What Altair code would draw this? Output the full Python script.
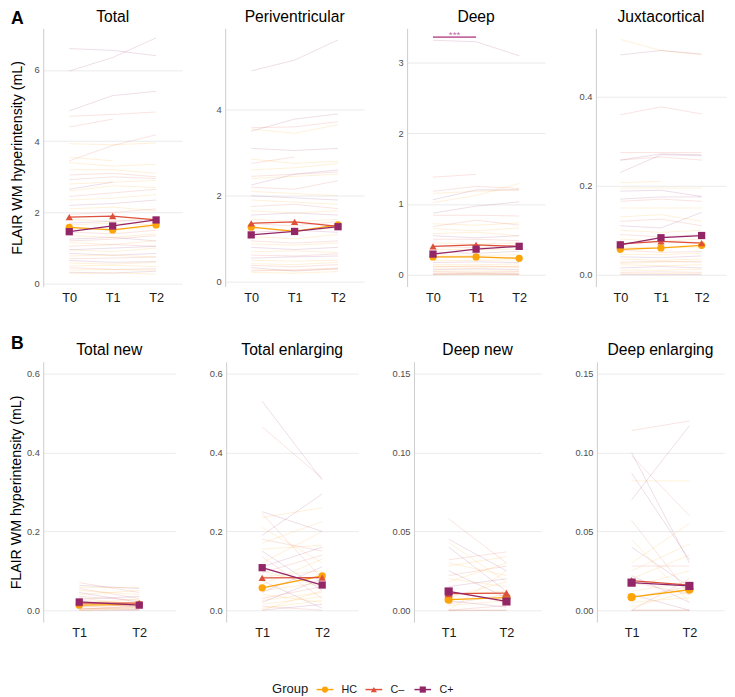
import altair as alt
import pandas as pd

FONT = "Liberation Sans"
GROUPS = ["HC", "C–", "C+"]
COLORS = ["#FCA50A", "#DD513A", "#932667"]
SHAPES = ["circle", "triangle-up", "square"]
TIMES_A = ["T0", "T1", "T2"]
TIMES_B = ["T1", "T2"]
YTITLE = "FLAIR WM hyperintensity (mL)"
SIG_COLOR = "#C46AA1"

# ---------- individual subject trajectories (group, values per time point) ----------
total_subj = [
    ("C+", 6.60, 6.55, 6.40), ("C+", 5.97, 6.35, 6.90), ("C+", 4.85, 5.28, 5.40),
    ("C–", 4.70, 4.75, 4.82), ("C–", 4.40, 4.62, None), ("HC", 3.93, 3.90, 3.95),
    ("C–", 3.45, 3.88, 4.18), ("HC", 3.55, 3.45, None), ("HC", 3.40, 3.30, 3.35),
    ("HC", 3.20, 3.20, 3.10), ("C–", 2.92, 3.00, 2.95), ("C+", 2.65, 2.85, None),
    ("HC", 2.60, 2.75, 2.70), ("C–", 2.45, 2.55, 2.65), ("HC", 2.35, 2.40, 2.50),
    ("C+", 2.20, 2.25, 2.35), ("HC", 2.10, 2.15, 2.05), ("C–", 1.95, 2.00, 2.10),
    ("HC", 1.80, 1.75, 1.85), ("C+", 1.70, 1.75, 1.80), ("HC", 1.55, 1.50, 1.60),
    ("C–", 1.45, 1.40, 1.50), ("HC", 1.35, 1.30, 1.40), ("C+", 1.25, 1.30, 1.20),
    ("HC", 1.15, 1.10, 1.20), ("C–", 1.05, 1.10, 1.05), ("HC", 0.95, 0.90, 1.00),
    ("C+", 0.85, 0.80, 0.85), ("HC", 0.78, 0.80, 0.75), ("C–", 0.70, 0.72, 0.75),
    ("C+", 0.65, 0.60, 0.62), ("HC", 0.58, 0.55, 0.60), ("HC", 0.50, 0.52, 0.48),
    ("C–", 0.45, 0.40, 0.42), ("HC", 0.38, 0.40, 0.38), ("C+", 0.32, 0.30, 0.35),
    ("HC", 0.28, 0.30, 0.27), ("C–", 1.20, 1.25, 1.35), ("HC", 1.65, 1.70, 1.65),
    ("C+", 0.95, 1.00, 1.05), ("HC", 2.80, 2.85, 2.90), ("C–", 3.05, 3.10, 3.00),
]
peri_subj = [
    ("C+", 4.90, 5.15, 5.62), ("C+", 3.50, 3.78, 3.90), ("HC", 3.55, 3.45, 3.65),
    ("C–", 3.58, 3.60, 3.72), ("C+", 3.10, 3.05, 3.10), ("C–", 2.75, 2.90, None),
    ("HC", 2.85, 2.75, 2.80), ("HC", 2.60, 2.65, 2.75), ("C+", 2.25, 2.50, 2.60),
    ("C–", 2.20, 2.15, 2.35), ("HC", 2.10, 2.05, 2.00), ("C+", 2.00, 1.95, 1.90),
    ("HC", 1.90, 1.85, 1.80), ("C–", 1.75, 1.80, 1.70), ("HC", 1.65, 1.60, 1.65),
    ("C+", 1.55, 1.60, 1.55), ("HC", 1.45, 1.40, 1.45), ("C–", 1.35, 1.30, 1.40),
    ("HC", 1.25, 1.20, 1.25), ("C+", 1.15, 1.20, 1.15), ("HC", 1.05, 1.00, 1.10),
    ("C–", 0.95, 0.90, 0.95), ("HC", 0.88, 0.85, 0.90), ("C+", 0.80, 0.75, 0.80),
    ("HC", 0.70, 0.72, 0.68), ("C–", 0.62, 0.60, 0.65), ("C+", 0.55, 0.58, 0.60),
    ("HC", 0.50, 0.48, 0.50), ("HC", 0.42, 0.40, 0.45), ("C–", 0.38, 0.35, 0.40),
    ("C+", 0.33, 0.25, 0.30), ("HC", 0.28, 0.26, 0.30), ("HC", 0.22, 0.20, 0.24),
    ("C–", 0.25, 0.28, 0.32), ("HC", 2.40, 2.45, 2.50), ("C–", 2.45, 2.50, 2.55),
]
deep_subj = [
    ("C+", 3.32, 3.30, 3.10), ("C–", 1.38, 1.42, None), ("C–", 1.18, 1.25, 1.22),
    ("HC", 1.15, 1.18, 1.20), ("C+", 1.06, 1.20, 1.20), ("HC", 1.02, 1.12, 1.29),
    ("C+", 0.87, 0.97, 1.03), ("C–", 0.84, 0.84, 0.83), ("HC", 0.72, 0.70, 0.73),
    ("C–", 0.68, 0.77, 0.70), ("HC", 0.65, 0.62, 0.66), ("HC", 0.58, 0.60, 0.55),
    ("C+", 0.55, 0.52, 0.55), ("C–", 0.50, 0.50, 0.48), ("HC", 0.45, 0.43, 0.45),
    ("C–", 0.40, 0.38, 0.42), ("HC", 0.36, 0.35, 0.36), ("C+", 0.32, 0.30, 0.33),
    ("HC", 0.28, 0.27, 0.28), ("C–", 0.24, 0.25, 0.24), ("HC", 0.20, 0.20, 0.21),
    ("C+", 0.17, 0.18, 0.17), ("HC", 0.14, 0.14, 0.15), ("C–", 0.11, 0.12, 0.11),
    ("HC", 0.09, 0.09, 0.10), ("C+", 0.07, 0.08, 0.07), ("HC", 0.05, 0.05, 0.05),
    ("C–", 0.04, 0.03, 0.04), ("HC", 0.02, 0.02, 0.02), ("C+", 0.01, 0.01, 0.01),
    ("HC", 0.00, 0.00, 0.00), ("C–", 0.00, 0.01, 0.00), ("HC", 0.12, 0.11, 0.12),
]
juxta_subj = [
    ("HC", 0.530, 0.505, 0.495), ("C+", 0.495, 0.505, 0.497), ("C–", 0.360, 0.378, 0.362),
    ("C–", 0.275, 0.275, 0.275), ("C+", 0.258, 0.272, 0.270), ("C–", 0.258, 0.265, 0.258),
    ("C+", 0.230, 0.270, 0.268), ("HC", 0.207, 0.210, None), ("HC", 0.195, 0.195, 0.195),
    ("C+", 0.188, 0.190, 0.176), ("C+", 0.170, 0.175, 0.175), ("C–", 0.165, 0.170, 0.165),
    ("HC", 0.150, 0.150, 0.150), ("HC", 0.130, 0.135, 0.120), ("C–", 0.120, 0.125, 0.110),
    ("C+", 0.110, 0.105, 0.140), ("HC", 0.100, 0.095, 0.100), ("C–", 0.090, 0.085, 0.090),
    ("HC", 0.080, 0.075, 0.080), ("C+", 0.070, 0.075, 0.072), ("HC", 0.062, 0.060, 0.062),
    ("C–", 0.055, 0.050, 0.052), ("HC", 0.045, 0.045, 0.048), ("C+", 0.040, 0.038, 0.042),
    ("HC", 0.035, 0.032, 0.035), ("C–", 0.028, 0.030, 0.028), ("HC", 0.022, 0.020, 0.022),
    ("C+", 0.015, 0.018, 0.015), ("HC", 0.010, 0.010, 0.012), ("C–", 0.005, 0.006, 0.005),
    ("HC", 0.002, 0.002, 0.002), ("C+", 0.000, 0.000, 0.000), ("HC", 0.025, 0.028, 0.030),
]
totnew_subj = [
    ("C–", 0.070, 0.045), ("C+", 0.063, 0.055), ("HC", 0.058, 0.058), ("C–", 0.055, 0.030),
    ("HC", 0.050, 0.040), ("C+", 0.045, 0.020), ("HC", 0.040, 0.050), ("C–", 0.035, 0.025),
    ("HC", 0.032, 0.012), ("C+", 0.028, 0.035), ("HC", 0.025, 0.018), ("C–", 0.022, 0.008),
    ("HC", 0.018, 0.028), ("C+", 0.015, 0.010), ("HC", 0.012, 0.022), ("C–", 0.010, 0.005),
    ("HC", 0.008, 0.015), ("C+", 0.005, 0.002), ("HC", 0.004, 0.006), ("C–", 0.002, 0.012),
    ("HC", 0.000, 0.002), ("C+", 0.000, 0.000), ("HC", 0.000, 0.008),
]
totenl_subj = [
    ("C+", 0.530, 0.330), ("C–", 0.465, 0.335), ("C+", 0.250, 0.200), ("C–", 0.245, 0.080),
    ("HC", 0.235, 0.260), ("C+", 0.190, 0.295), ("HC", 0.210, 0.120), ("C–", 0.180, 0.150),
    ("HC", 0.170, 0.225), ("C+", 0.150, 0.050), ("HC", 0.155, 0.165), ("C–", 0.135, 0.030),
    ("HC", 0.120, 0.200), ("C+", 0.110, 0.160), ("HC", 0.100, 0.060), ("C–", 0.095, 0.140),
    ("HC", 0.085, 0.100), ("C+", 0.075, 0.005), ("HC", 0.065, 0.130), ("C–", 0.055, 0.090),
    ("HC", 0.050, 0.070), ("C+", 0.045, 0.110), ("HC", 0.040, 0.020), ("C–", 0.030, 0.060),
    ("HC", 0.025, 0.045), ("C+", 0.020, 0.080), ("HC", 0.015, 0.035), ("C–", 0.010, 0.000),
    ("HC", 0.005, 0.025), ("C+", 0.000, 0.015), ("HC", 0.000, 0.050),
]
deepnew_subj = [
    ("C–", 0.058, 0.030), ("C+", 0.045, 0.025), ("HC", 0.043, 0.018), ("C+", 0.040, 0.012),
    ("C–", 0.032, 0.037), ("HC", 0.030, 0.022), ("HC", 0.028, 0.034), ("C+", 0.025, 0.008),
    ("C–", 0.022, 0.028), ("HC", 0.020, 0.015), ("HC", 0.018, 0.030), ("C+", 0.015, 0.020),
    ("C–", 0.012, 0.005), ("HC", 0.010, 0.012), ("HC", 0.008, 0.018), ("C+", 0.006, 0.002),
    ("C–", 0.004, 0.010), ("HC", 0.003, 0.006), ("HC", 0.000, 0.000), ("C+", 0.000, 0.000),
    ("C–", 0.000, 0.003), ("HC", 0.000, 0.025),
]
deepenl_subj = [
    ("C–", 0.114, 0.120), ("C+", 0.100, 0.030), ("C–", 0.098, 0.060), ("C+", 0.087, 0.032),
    ("HC", 0.082, 0.082), ("C+", 0.070, 0.117), ("C–", 0.057, 0.010), ("HC", 0.045, 0.005),
    ("C+", 0.040, 0.015), ("HC", 0.030, 0.055), ("C–", 0.028, 0.028), ("HC", 0.025, 0.042),
    ("C+", 0.022, 0.005), ("HC", 0.020, 0.035), ("C–", 0.018, 0.010), ("HC", 0.015, 0.025),
    ("HC", 0.012, 0.018), ("C+", 0.010, 0.000), ("C–", 0.008, 0.015), ("HC", 0.005, 0.008),
    ("HC", 0.002, 0.012), ("C+", 0.000, 0.000), ("HC", 0.000, 0.000), ("C–", 0.000, 0.020),
]

# ---------- group means ----------
MEANS = {
    "Total": {"HC": [1.58, 1.51, 1.65], "C–": [1.87, 1.90, 1.79], "C+": [1.46, 1.62, 1.79]},
    "Periventricular": {"HC": [1.27, 1.17, 1.32], "C–": [1.36, 1.39, 1.29], "C+": [1.09, 1.17, 1.28]},
    "Deep": {"HC": [0.25, 0.25, 0.23], "C–": [0.40, 0.42, 0.40], "C+": [0.29, 0.36, 0.40]},
    "Juxtacortical": {"HC": [0.057, 0.060, 0.066], "C–": [0.069, 0.075, 0.071], "C+": [0.067, 0.083, 0.088]},
    "Total new": {"HC": [0.013, 0.015], "C–": [0.018, 0.018], "C+": [0.021, 0.013]},
    "Total enlarging": {"HC": [0.057, 0.087], "C–": [0.082, 0.083], "C+": [0.108, 0.064]},
    "Deep new": {"HC": [0.0067, 0.0080], "C–": [0.0105, 0.0108], "C+": [0.0119, 0.0056]},
    "Deep enlarging": {"HC": [0.0083, 0.0130], "C–": [0.0188, 0.0160], "C+": [0.0175, 0.0154]},
}

# significance annotation in "Deep": from, to, height, label
deep_sig = ("T0", "T1", 3.365, "***")

color_scale = alt.Scale(domain=GROUPS, range=COLORS)
shape_scale = alt.Scale(domain=GROUPS, range=SHAPES)
TITLE_SIZE = 16


def panel(name, subjects, times, ydom, yticks, fmt, width, height,
          first=False, letter=None, letter_x=0, letter_y=0, title_y=-19, pt_size=55,
          sig=None, title_pad=3):
    rows = []
    for i, rec in enumerate(subjects):
        for t, v in zip(times, rec[1:]):
            if v is not None:
                rows.append({"sid": i, "group": rec[0], "time": t, "value": v})
    sub_df = pd.DataFrame(rows)
    mean_df = pd.DataFrame([{"group": g, "time": t, "value": v}
                            for g in GROUPS for t, v in zip(times, MEANS[name][g])])

    xscale = alt.Scale(type="point", domain=times, padding=0.6)
    xaxis = alt.Axis(title=None, labelAngle=0, domain=False, ticks=False, tickSize=0,
                     grid=False, labelFontSize=13, labelColor="#1A1A1A", labelFont=FONT,
                     labelPadding=5)
    yaxis_kw = dict(values=yticks, format=fmt, grid=True, gridColor="#EBEBEB", gridWidth=1,
                    domain=True, domainColor="#CCCCCC", domainWidth=1, ticks=False, tickSize=0,
                    labelFontSize=9.5, labelColor="#4D4D4D", labelFont=FONT, labelPadding=4)
    if first:
        yaxis = alt.Axis(title=YTITLE, titleFontSize=14.5, titleFontWeight="normal",
                         titleFont=FONT, titleColor="#000000", titlePadding=title_pad, **yaxis_kw)
    else:
        yaxis = alt.Axis(title=None, **yaxis_kw)
    yscale = alt.Scale(domain=ydom, nice=False, zero=False)
    x = alt.X("time:N", scale=xscale, axis=xaxis)
    y = alt.Y("value:Q", scale=yscale, axis=yaxis)
    col = alt.Color("group:N", scale=color_scale, legend=None)

    spag = alt.Chart(sub_df).mark_line(strokeWidth=0.8, opacity=0.2).encode(
        x=x, y=y, color=col, detail="sid:N")
    mline = alt.Chart(mean_df).mark_line(strokeWidth=1.3).encode(
        x=x, y=y, color=col, detail="group:N")
    mpts = alt.Chart(mean_df).mark_point(filled=True, size=pt_size, opacity=1).encode(
        x=x, y=y, color=col, shape=alt.Shape("group:N", scale=shape_scale, legend=None))
    layers = [spag, mline, mpts]

    if sig is not None:
        step = width / (len(times) - 1 + 1.2)
        sdf = pd.DataFrame({"x1": [sig[0]], "x2": [sig[1]], "y": [sig[2]], "label": [sig[3]]})
        layers.append(alt.Chart(sdf).mark_rule(color=SIG_COLOR, strokeWidth=1.6).encode(
            x=alt.X("x1:N", scale=xscale, axis=xaxis), x2="x2:N",
            y=alt.Y("y:Q", scale=yscale, axis=yaxis)))
        layers.append(alt.Chart(sdf).mark_text(color=SIG_COLOR, fontSize=10, font=FONT,
                                               baseline="alphabetic", dx=step / 2, dy=1).encode(
            x=alt.X("x1:N", scale=xscale, axis=xaxis),
            y=alt.Y("y:Q", scale=yscale, axis=yaxis),
            text="label:N"))

    # panel title drawn as text (so the row letter can share its line)
    layers.append(alt.Chart(pd.DataFrame({"t": [name]})).mark_text(
        font=FONT, fontSize=TITLE_SIZE, align="center", baseline="top",
        color="#000000").encode(text="t:N", x=alt.value(width / 2), y=alt.value(title_y)))
    if letter is not None:
        layers.append(alt.Chart(pd.DataFrame({"t": [letter]})).mark_text(
            font=FONT, fontSize=18, fontWeight="bold", align="left", baseline="top",
            color="#000000").encode(text="t:N", x=alt.value(letter_x), y=alt.value(letter_y)))
    return alt.layer(*layers).properties(width=width, height=height)


HA = 264
HB = 266
pA1 = panel("Total", total_subj, TIMES_A, [-0.08, 7.17], [0, 2, 4, 6], "d", 142, HA,
            first=True, letter="A", letter_x=-33, letter_y=-18, title_pad=10)
pA2 = panel("Periventricular", peri_subj, TIMES_A, [-0.11, 5.89], [0, 2, 4], "d", 142, HA)
pA3 = panel("Deep", deep_subj, TIMES_A, [-0.17, 3.49], [0, 1, 2, 3], "d", 141, HA, sig=deep_sig)
pA4 = panel("Juxtacortical", juxta_subj, TIMES_A, [-0.027, 0.555], [0, 0.2, 0.4], ".1f", 133, HA)

pB1 = panel("Total new", totnew_subj, TIMES_B, [-0.03, 0.63], [0, 0.2, 0.4, 0.6], ".1f", 135, HB,
            first=True, letter="B", letter_x=-33, letter_y=-27, title_y=-20, title_pad=3)
pB2 = panel("Total enlarging", totenl_subj, TIMES_B, [-0.03, 0.63], [0, 0.2, 0.4, 0.6], ".1f", 135, HB,
            title_y=-20)
pB3 = panel("Deep new", deepnew_subj, TIMES_B, [-0.0075, 0.1575], [0, 0.05, 0.1, 0.15], ".2f", 130, HB,
            pt_size=70, title_y=-20)
pB4 = panel("Deep enlarging", deepenl_subj, TIMES_B, [-0.0075, 0.1575], [0, 0.05, 0.1, 0.15], ".2f", 130, HB,
            pt_size=70, title_y=-20)

rowA = alt.hconcat(pA1, pA2, pA3, pA4, spacing=33).resolve_scale(x="independent", y="independent")
rowB = alt.hconcat(pB1, pB2, pB3, pB4, spacing=33).resolve_scale(x="independent", y="independent")

# ---------- manual legend ----------
LEG_SLOTS = ["Group"] + GROUPS
LEG_Y = 19
leg_x = alt.Scale(domain=LEG_SLOTS, range=[238, 388], padding=0)
leg_df = pd.DataFrame({"group": GROUPS})
leg_col = alt.Color("group:N", scale=color_scale, legend=None)
leg_strokes = alt.Chart(leg_df).mark_point(shape="stroke", size=289, strokeWidth=1.5,
                                           filled=False, opacity=1).encode(
    x=alt.X("group:N", scale=leg_x, axis=None), y=alt.value(LEG_Y), color=leg_col)
leg_syms = alt.Chart(leg_df).mark_point(filled=True, size=40, opacity=1).encode(
    x=alt.X("group:N", scale=leg_x, axis=None), y=alt.value(LEG_Y), color=leg_col,
    shape=alt.Shape("group:N", scale=shape_scale, legend=None))
leg_text = alt.Chart(leg_df).mark_text(align="left", dx=17, fontSize=11, font=FONT,
                                       color="#1A1A1A", baseline="middle").encode(
    x=alt.X("group:N", scale=leg_x, axis=None), y=alt.value(LEG_Y), text="group:N")
leg_title = alt.Chart(pd.DataFrame({"t": ["Group"]})).mark_text(
    align="left", dx=-4, fontSize=13.3, font=FONT, color="#1A1A1A", baseline="middle").encode(
    x=alt.X("t:N", scale=leg_x, axis=None), y=alt.value(LEG_Y), text="t:N")
legend = alt.layer(leg_strokes, leg_syms, leg_text, leg_title).properties(width=686, height=25)

chart = alt.vconcat(rowA, rowB, legend, spacing=30,
                    padding={"top": -7, "left": 0, "right": 0, "bottom": 0}).configure_view(
    stroke="transparent")

chart.save("out.html", embed_options={"renderer": "svg", "actions": False})
